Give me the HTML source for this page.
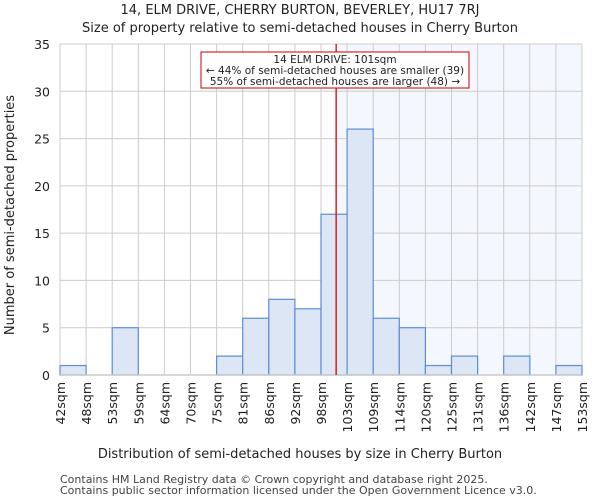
<!DOCTYPE html>
<html><head><meta charset="utf-8"><style>
body{margin:0;background:#fff;font-family:"DejaVu Sans","Liberation Sans",sans-serif}
</style></head><body>
<svg width="600" height="500" viewBox="0 0 600 500" xmlns="http://www.w3.org/2000/svg" font-family="DejaVu Sans, Liberation Sans, sans-serif">
<text x="300" y="14" text-anchor="middle" font-size="13" fill="#222">14, ELM DRIVE, CHERRY BURTON, BEVERLEY, HU17 7RJ</text>
<text x="300" y="32" text-anchor="middle" font-size="13" fill="#222">Size of property relative to semi-detached houses in Cherry Burton</text>
<g id="plot"></g>
<text x="300" y="458" text-anchor="middle" font-size="13" fill="#222">Distribution of semi-detached houses by size in Cherry Burton</text>
<text transform="translate(14,215) rotate(-90)" text-anchor="middle" font-size="13" fill="#222">Number of semi-detached properties</text>
<text x="60" y="483" font-size="11" fill="#444">Contains HM Land Registry data © Crown copyright and database right 2025.</text>
<text x="60" y="494" font-size="11" fill="#444">Contains public sector information licensed under the Open Government Licence v3.0.</text>
</svg>
<script>
const binLabels=["42sqm","48sqm","53sqm","59sqm","64sqm","70sqm","75sqm","81sqm","86sqm","92sqm","98sqm","103sqm","109sqm","114sqm","120sqm","125sqm","131sqm","136sqm","142sqm","147sqm","153sqm"];
const counts=[1,0,5,0,0,0,2,6,8,7,17,26,6,5,1,2,0,2,0,1];
const yTicks=[0,5,10,15,20,25,30,35];
const markerBin=10.58;
const NS="http://www.w3.org/2000/svg";
const g=document.getElementById('plot');
const X0=60,X1=582,Y0=375,Y1=44,YMAX=35;
const bw=(X1-X0)/counts.length;
const xs=i=>X0+i*bw;
const ys=v=>Y0-(v/YMAX)*(Y0-Y1);
function mk(t,a){const e=document.createElementNS(NS,t);for(const k in a)e.setAttribute(k,a[k]);g.appendChild(e);return e;}
let e;
const mx=xs(markerBin);
e=mk('rect',{x:mx,y:Y1,width:X1-mx,height:Y0-Y1,fill:'#f4f7fd'});


yTicks.forEach(t=>{
 e=mk('line',{x1:X0,x2:X1,y1:ys(t),y2:ys(t),stroke:'#ccc','stroke-width':1});
 
 
 e=mk('text',{x:X0-10,y:ys(t)+5,'text-anchor':'end','font-size':12.5,fill:'#222'});
 e.textContent=t;
 
 
});
binLabels.forEach((l,i)=>{
 e=mk('line',{x1:xs(i),x2:xs(i),y1:Y1,y2:Y0,stroke:'#ccc','stroke-width':1});
 
 
 e=mk('text',{transform:`translate(${xs(i)+5},382) rotate(-90)`,'text-anchor':'end','font-size':12.5,fill:'#222'});
 e.textContent=l;
 
 
});
counts.forEach((c,i)=>{
 if(c<=0)return;
 e=mk('rect',{x:xs(i),y:ys(c),width:bw,height:Y0-ys(c),fill:'#dce6f4',stroke:'#5b8ed6','stroke-width':1.2});
 
 
});
e=mk('line',{x1:X0,x2:X1,y1:Y0,y2:Y0,stroke:'#ccc','stroke-width':1.5});


e=mk('line',{x1:mx,x2:mx,y1:Y1,y2:Y0,stroke:'#d00','stroke-width':1.3});


e=mk('rect',{x:201,y:52,width:268,height:36,fill:'#fff',stroke:'#c00','stroke-width':1});


["14 ELM DRIVE: 101sqm","← 44% of semi-detached houses are smaller (39)","55% of semi-detached houses are larger (48) →"].forEach((s,i)=>{
 e=mk('text',{x:335,y:63+i*11,'text-anchor':'middle','font-size':10.5,fill:'#222'});
 e.textContent=s;
 
 
});
</script>
</body></html>
